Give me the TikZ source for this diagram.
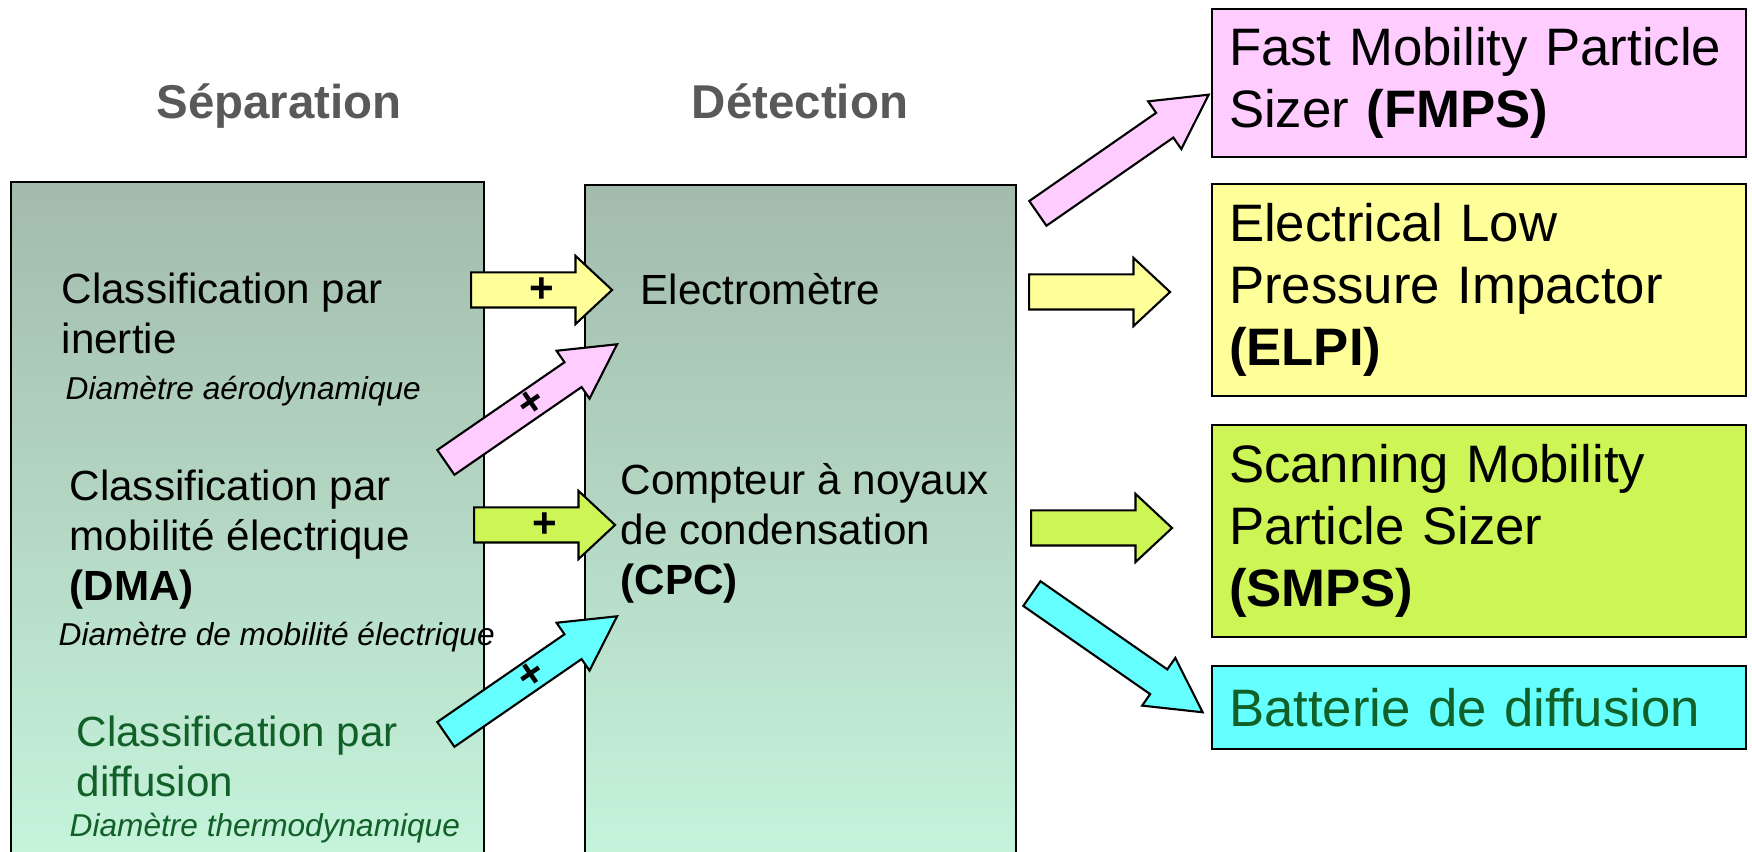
\documentclass[tikz,border=0pt]{standalone}
\usepackage{fontspec}
\setmainfont{Liberation Sans}
\usetikzlibrary{shapes.arrows,calc}

\definecolor{coltop}{RGB}{163,187,172}
\definecolor{colbottom}{RGB}{198,245,220}
\definecolor{pinkfill}{HTML}{FFCCFF}
\definecolor{yellowfill}{HTML}{FFFF99}
\definecolor{limefill}{RGB}{204,245,85}
\definecolor{cyanfill}{HTML}{66FFFF}
\definecolor{diffgreen}{RGB}{16,96,40}
\definecolor{titlegrey}{RGB}{89,89,89}

\tikzset{
  column/.style={draw, line width=0.6pt, top color=coltop, bottom color=colbottom,
    anchor=north west, minimum height=6.9cm},
  device/.style={draw, line width=0.6pt, minimum width=5.34cm, text width=5cm,
    inner xsep=0.17cm, align=left, font=\fontsize{15}{17.6}\selectfont},
  title/.style={font=\fontsize{13.5}{16}\selectfont\bfseries, text=titlegrey, anchor=base},
  method/.style={align=left, inner sep=0pt, anchor=west, font=\fontsize{12}{14.2}\selectfont},
  diam/.style={inner sep=0pt, anchor=west, font=\fontsize{9}{11}\selectfont\itshape},
  flat/.style={single arrow, draw, line width=0.6pt, inner sep=0pt, anchor=tail,
    text height=0.165cm, text depth=0.165cm, minimum height=1.41cm,
    single arrow head extend=0.165cm, single arrow tip angle=86},
  slant/.style={single arrow, draw, line width=0.6pt, inner sep=0pt, anchor=tail,
    text height=0.14cm, text depth=0.14cm, minimum height=2.08cm,
    single arrow head extend=0.14cm, single arrow tip angle=57},
  plus/.style={inner sep=0pt, font=\fontsize{12}{14}\selectfont\bfseries}
}

\begin{document}
\begin{tikzpicture}
  \useasboundingbox (0,0) rectangle (17.52,8.52);

  % the two columns
  \node[column, minimum width=4.73cm] (sep) at (0.10,6.71) {};
  \node[column, minimum width=4.31cm] (det) at (5.84,6.68) {};
  \node[title] (septitle) at (2.79,7.33) {Séparation};
  \node[title] (dettitle) at (8.00,7.33) {Détection};

  % separation methods
  \node[method] (inertie) at (0.61,5.39) {Classification par\\inertie};
  \node[diam] (aero) at (0.65,4.61) {Diamètre aérodynamique};
  \node[method] (dma) at (0.69,3.12) {Classification par\\mobilité électrique\\\textbf{(DMA)}};
  \node[diam] (mob) at (0.58,2.15) {Diamètre de mobilité électrique};
  \node[method, text=diffgreen] (diff) at (0.76,0.96) {Classification par\\diffusion};
  \node[diam, text=diffgreen] (thermo) at (0.69,0.24) {Diamètre thermodynamique};

  % detectors
  \node[method] (electro) at (6.40,5.63) {Electromètre};
  \node[method] (cpc) at (6.20,3.19) {Compteur à noyaux\\de condensation\\\textbf{(CPC)}};

  % instruments
  \node[device, fill=pinkfill, minimum height=1.48cm] (fmps) at (14.79,7.69)
    {Fast Mobility Particle\\Sizer \textbf{(FMPS)}};
  \node[device, fill=yellowfill, minimum height=2.12cm] (elpi) at (14.79,5.62)
    {Electrical Low\\Pressure Impactor\\\textbf{(ELPI)}};
  \node[device, fill=limefill, minimum height=2.12cm] (smps) at (14.79,3.21)
    {Scanning Mobility\\Particle Sizer\\\textbf{(SMPS)}};
  \node[device, fill=cyanfill, text=diffgreen, minimum height=0.83cm] (batt) at (14.79,1.445)
    {Batterie de diffusion};

  % arrows into the detectors
  \node[flat, fill=yellowfill] (inyellow) at (4.70,5.62) {};
  \node[flat, fill=limefill] (inlime) at (4.73,3.27) {};
  \node[slant, fill=pinkfill, rotate=34.6] (inpink) at (4.45,3.89) {};
  \node[slant, fill=cyanfill, rotate=34.6] (incyan) at (4.45,1.17) {};
  \foreach \a/\r in {inyellow/0, inlime/0, inpink/34.6, incyan/34.6}
    \node[plus, rotate=\r] (\a plus) at ($(\a.tail)!0.5!(\a.tip)$) {+};

  % arrows out to the instruments
  \node[slant, fill=pinkfill, rotate=34.8] (outpink) at (10.37,6.38) {};
  \node[flat, fill=yellowfill] (outyellow) at (10.28,5.60) {};
  \node[flat, fill=limefill] (outlime) at (10.30,3.24) {};
  \node[slant, fill=cyanfill, rotate=-34.8] (outcyan) at (10.31,2.59) {};
\end{tikzpicture}
\end{document}
